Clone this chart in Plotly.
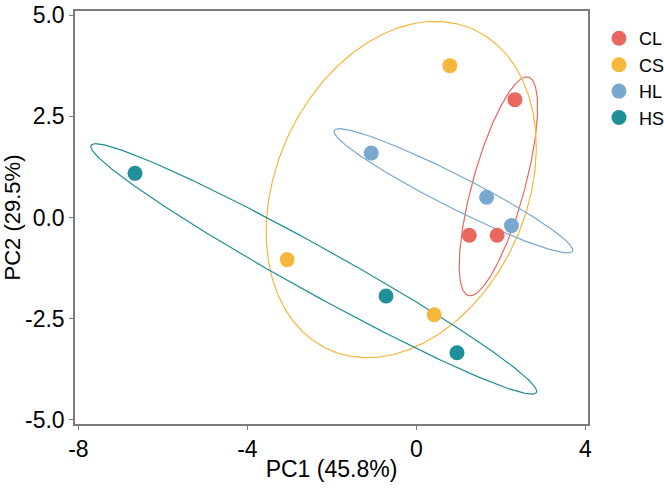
import numpy as np
import plotly.graph_objects as go

groups = ["CL", "CS", "HL", "HS"]
colors = ["#E9675F", "#F6B73C", "#79A8CF", "#1F8F99"]

pc1 = {
    "CL": [2.33, 1.25, 1.91],
    "CS": [0.79, -3.06, 0.42],
    "HL": [-1.07, 1.66, 2.25],
    "HS": [-6.66, -0.72, 0.96],
}
pc2 = {
    "CL": [2.91, -0.44, -0.44],
    "CS": [3.75, -1.04, -2.40],
    "HL": [1.59, 0.50, -0.20],
    "HS": [1.09, -1.94, -3.34],
}

# 95% confidence ellipse parameters: centre x, centre y, semi-axes, angle (deg)
ell_cx = [1.94, -0.36, 0.875, -2.43]
ell_cy = [0.77, 0.69, 0.66, -1.27]
ell_a = [2.79, 4.31, 3.19, 6.09]
ell_b = [0.62, 2.98, 0.40, 0.56]
ell_ang = [75.3, 68.2, -27.9, -30.1]

x_ticks = [-8, -4, 0, 4]
x_ticktext = ["-8", "-4", "0", "4"]
y_ticks = [5.0, 2.5, 0.0, -2.5, -5.0]
y_ticktext = ["5.0", "2.5", "0.0", "-2.5", "-5.0"]

FONT = "Liberation Sans, Arial, sans-serif"

fig = go.Figure()

t = np.linspace(0, 2 * np.pi, 400)
for i, g in enumerate(groups):
    th = np.deg2rad(ell_ang[i])
    ex = ell_cx[i] + ell_a[i] * np.cos(t) * np.cos(th) - ell_b[i] * np.sin(t) * np.sin(th)
    ey = ell_cy[i] + ell_a[i] * np.cos(t) * np.sin(th) + ell_b[i] * np.sin(t) * np.cos(th)
    fig.add_trace(go.Scatter(x=ex, y=ey, mode="lines", line=dict(color=colors[i], width=1.2),
                             showlegend=False, hoverinfo="skip"))

for i, g in enumerate(groups):
    fig.add_trace(go.Scatter(x=pc1[g], y=pc2[g], mode="markers", name=g,
                             marker=dict(color=colors[i], size=15, line=dict(width=0))))

axis_common = dict(
    showgrid=False, zeroline=False, showline=True, mirror=True,
    linecolor="#7a7a7a", linewidth=1.5, ticks="outside", ticklen=4,
    tickcolor="#7a7a7a", tickwidth=1.2,
    tickfont=dict(family=FONT, size=23, color="#000000"),
)

fig.update_layout(
    width=664, height=491,
    margin=dict(l=75, r=76, t=11, b=67, autoexpand=False),
    paper_bgcolor="white", plot_bgcolor="white",
    font=dict(family=FONT, color="#000000"),
    xaxis=dict(range=[-8.08, 4.06], tickvals=x_ticks, ticktext=x_ticktext,
               title=dict(text="PC1 (45.8%)", font=dict(family=FONT, size=23), standoff=0),
               **axis_common),
    yaxis=dict(range=[-5.1, 5.1], tickvals=y_ticks, ticktext=y_ticktext,
               title=dict(text="PC2 (29.5%)", font=dict(family=FONT, size=22), standoff=4),
               **axis_common),
    legend=dict(x=1.0214, y=0.978, xanchor="left", yanchor="top",
                font=dict(family=FONT, size=18, color="#000000"),
                bgcolor="rgba(0,0,0,0)", itemwidth=30, tracegroupgap=0),
)

fig.write_html("out.html")
